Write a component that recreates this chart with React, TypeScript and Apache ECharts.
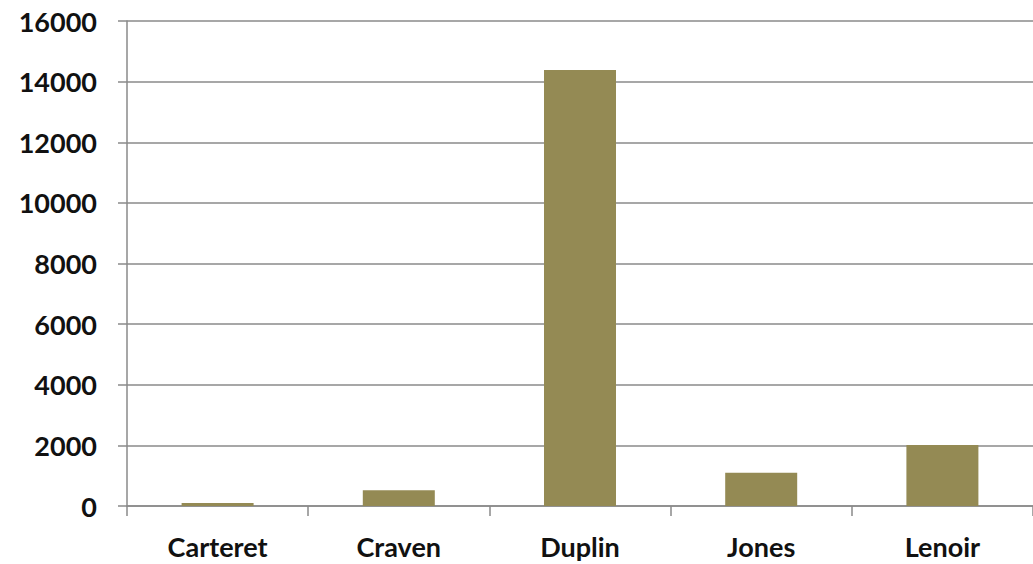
import React, { useEffect, useRef } from "react";
import * as echarts from "echarts";

const categories = ["Carteret", "Craven", "Duplin", "Jones", "Lenoir"];
const values = [100, 520, 14380, 1100, 2010];
const yTicks = { min: 0, max: 16000, interval: 2000 };

export default function App() {
  const ref = useRef<HTMLDivElement>(null);
  useEffect(() => {
    if (!ref.current) return;
    const chart = echarts.init(ref.current, null, { renderer: "svg" });
    const font = "Lato";
    chart.setOption({
      animation: false,
      backgroundColor: "#ffffff",
      grid: { left: 127, top: 21, width: 910, bottom: 58, containLabel: false },
      xAxis: {
        type: "category",
        data: categories,
        axisLine: { lineStyle: { color: "#8a8a8a", width: 1.5 } },
        axisTick: { show: true, length: 10, lineStyle: { color: "#8a8a8a", width: 1.5 } },
        axisLabel: { color: "#111", fontFamily: font, fontWeight: "bold", fontSize: 27, margin: 27 },
      },
      yAxis: {
        type: "value",
        min: yTicks.min,
        max: yTicks.max,
        interval: yTicks.interval,
        axisLine: { show: true, lineStyle: { color: "#8a8a8a", width: 1.5 } },
        axisTick: { show: true, length: 9, lineStyle: { color: "#8a8a8a", width: 1.5 } },
        axisLabel: {
          color: "#111",
          fontFamily: font,
          fontWeight: "bold",
          fontSize: 27,
          margin: 30,
          formatter: (v: number) => String(v),
        },
        splitLine: { lineStyle: { color: "#8a8a8a", width: 1.5 } },
      },
      series: [
        {
          type: "bar",
          data: values,
          barWidth: 72,
          itemStyle: { color: "#948A54" },
        },
      ],
    });
    return () => chart.dispose();
  }, []);
  return (
    <div
      ref={ref}
      style={{ position: "fixed", left: 0, top: 0, width: 1033, height: 564, background: "#fff" }}
    />
  );
}
